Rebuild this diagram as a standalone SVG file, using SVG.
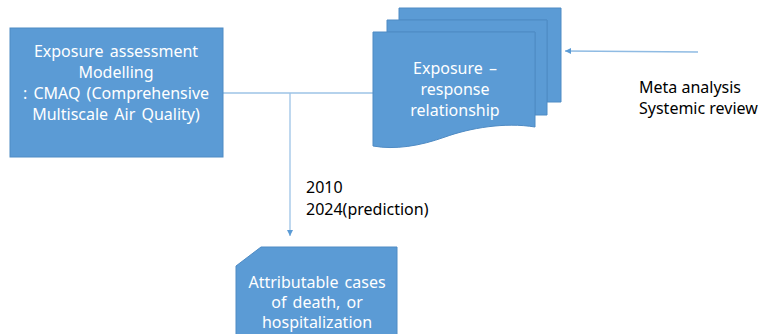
<svg xmlns="http://www.w3.org/2000/svg" width="764" height="334" viewBox="0 0 764 334">
<style>
.box{fill:#5B9BD5;stroke:#4F8BC4;stroke-width:1}
.wt{font-family:"Noto Sans","Open Sans",sans-serif;font-size:16px;word-spacing:2px;fill:#FFFFFF;text-anchor:middle}
.bt{font-family:"Noto Sans","Open Sans",sans-serif;font-size:16px;fill:#000000}
.ln{stroke:#9DC3E6;stroke-width:1.3;fill:none}
</style>
<defs>
<marker id="ah" markerWidth="8" markerHeight="8" refX="6" refY="4" orient="auto" markerUnits="userSpaceOnUse">
<path d="M0,1 L6,4 L0,7 z" fill="#5B9BD5"/>
</marker>
</defs>
<g id="connectors">
<path class="ln" d="M223,93 H373"/>
<path class="ln" d="M290,93 V236" marker-end="url(#ah)"/>
<path class="ln" d="M698,52 L565,51" marker-end="url(#ah)" style="stroke:#8FBBE3"/>
</g>
<g id="exposure-assessment">
<rect class="box" x="10" y="28" width="213" height="129"/>
<text class="wt" x="116" y="57">Exposure assessment</text>
<text class="wt" x="116" y="78">Modelling</text>
<text class="wt" x="116" y="99">: CMAQ (Comprehensive</text>
<text class="wt" x="116" y="120">Multiscale Air Quality)</text>
</g>
<g id="exposure-response">
<path class="box" d="M399,8 H561 V102 H547 V20 H399 Z"/>
<path class="box" d="M387,20 H547 V115 H535 V32 H387 Z"/>
<path class="box" d="M373,32 H535 V127 C505,122 470,128 445,137 C420,146 395,150 373,146 Z"/>
<text class="wt" x="455" y="74">Exposure –</text>
<text class="wt" x="455" y="95">response</text>
<text class="wt" x="455" y="116">relationship</text>
</g>
<g id="meta-analysis">
<text class="bt" x="639" y="93">Meta analysis</text>
<text class="bt" x="639" y="114">Systemic review</text>
</g>
<g id="years">
<text class="bt" x="306" y="193">2010</text>
<text class="bt" x="306" y="215">2024(prediction)</text>
</g>
<g id="attributable-cases">
<path class="box" d="M261,247 H397 V340 H236 V266 Z"/>
<text class="wt" x="317" y="288">Attributable cases</text>
<text class="wt" x="317" y="308">of death, or</text>
<text class="wt" x="317" y="328">hospitalization</text>
</g>
</svg>
